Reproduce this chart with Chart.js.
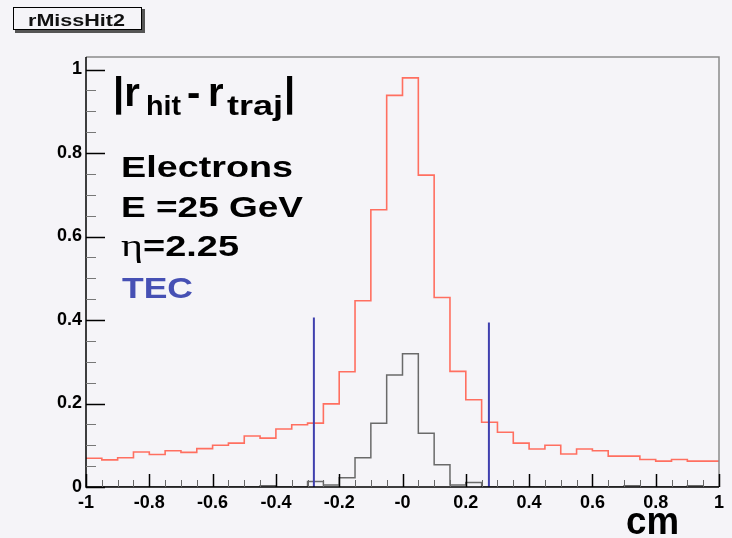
<!DOCTYPE html>
<html>
<head>
<meta charset="utf-8">
<script src="https://cdn.jsdelivr.net/npm/chart.js@4.4.1/dist/chart.umd.min.js"></script>
<style>
  html, body { margin: 0; padding: 0; background: #f5f4f8; }
  #wrap { width: 732px; height: 538px; position: relative; }
</style>
</head>
<body>
<div id="wrap"><canvas id="c" width="732" height="538"></canvas></div>
<script>
// ---- data ----
const binLow = -1;
const binWidth = 0.05;
const redCounts = [0.069,0.065,0.070,0.084,0.078,0.087,0.083,0.092,0.100,0.105,0.122,0.117,0.139,0.149,0.153,0.199,0.276,0.446,0.664,0.938,0.980,0.747,0.454,0.277,0.209,0.155,0.131,0.105,0.091,0.100,0.079,0.091,0.087,0.074,0.074,0.066,0.062,0.066,0.062,0.062];
const grayCounts = [0,0,0,0,0,0,0,0,0,0,0,0.003,0,0,0.013,0.005,0.022,0.070,0.153,0.268,0.319,0.129,0.053,0.005,0.011,0,0,0,0,0,0,0,0,0,0.003,0,0,0,0.003,0];
const cutPositions = [-0.28, 0.273];
const cutHeights = [0.406, 0.394];
const xTickValues = [-1,-0.8,-0.6,-0.4,-0.2,0,0.2,0.4,0.6,0.8,1];
const xTickLabels = ['-1','-0.8','-0.6','-0.4','-0.2','-0','0.2','0.4','0.6','0.8','1'];
const yTickValues = [0,0.2,0.4,0.6,0.8,1];
const yTickLabels = ['0','0.2','0.4','0.6','0.8','1'];

function histPoints(counts) {
  const pts = [];
  counts.forEach((v, i) => {
    const lo = binLow + i * binWidth;
    pts.push({x: lo, y: v});
    pts.push({x: lo + binWidth, y: v});
  });
  return pts;
}

const BG = '#f5f4f8';

function fitText(ctx, str, x, y, font, color, targetWidth) {
  ctx.save();
  ctx.font = font;
  ctx.fillStyle = color;
  ctx.textAlign = 'left';
  ctx.textBaseline = 'alphabetic';
  const w = ctx.measureText(str).width;
  const s = targetWidth ? targetWidth / w : 1;
  ctx.translate(x, y);
  ctx.scale(s, 1);
  ctx.fillText(str, 0, 0);
  ctx.restore();
}

const decor = {
  id: 'decor',
  beforeDraw(chart) {
    const ctx = chart.ctx;
    ctx.save();
    ctx.fillStyle = BG;
    ctx.fillRect(0, 0, chart.width, chart.height);
    // title box
    ctx.fillStyle = '#555';
    ctx.fillRect(15, 30, 130, 3);
    ctx.fillRect(142, 9, 3, 24);
    ctx.fillStyle = BG;
    ctx.fillRect(13, 7, 129, 23);
    ctx.strokeStyle = '#000';
    ctx.lineWidth = 1;
    ctx.strokeRect(13.5, 7.5, 128, 22);
    ctx.restore();
    fitText(ctx, 'rMissHit2', 28, 26, 'bold 17px "Liberation Sans"', '#111', 97);
  },
  afterDatasetsDraw(chart) {
    const ctx = chart.ctx;
    const a = chart.chartArea;
    const xs = chart.scales.x, ys = chart.scales.y;
    ctx.save();
    // frame
    ctx.strokeStyle = '#8a8a8a';
    ctx.lineWidth = 1.5;
    ctx.beginPath();
    ctx.moveTo(a.left, a.top); ctx.lineTo(a.right, a.top); ctx.lineTo(a.right, a.bottom);
    ctx.stroke();
    ctx.strokeStyle = '#000';
    ctx.lineWidth = 1.5;
    ctx.beginPath();
    ctx.moveTo(a.left, a.top); ctx.lineTo(a.left, a.bottom); ctx.lineTo(a.right, a.bottom);
    ctx.stroke();
    // y ticks (inside)
    for (let k = 0; k <= 20; k++) {
      const v = k * 0.05;
      const py = Math.round(ys.getPixelForValue(v)) + 0.5;
      const major = (k % 4 === 0);
      ctx.strokeStyle = major ? '#000' : '#777';
      ctx.lineWidth = major ? 1.5 : 1;
      ctx.beginPath();
      ctx.moveTo(a.left, py);
      ctx.lineTo(a.left + (major ? 19 : 10), py);
      ctx.stroke();
    }
    // x ticks (inside)
    for (let k = 0; k <= 40; k++) {
      const v = binLow + k * binWidth;
      const px = Math.round(xs.getPixelForValue(v)) + 0.5;
      const major = (k % 4 === 0);
      ctx.strokeStyle = major ? '#000' : '#666';
      ctx.lineWidth = major ? 1.5 : 1;
      ctx.beginPath();
      ctx.moveTo(px, a.bottom);
      ctx.lineTo(px, a.bottom - (major ? 13 : 7));
      ctx.stroke();
    }
    ctx.restore();
  },
  afterDraw(chart) {
    const ctx = chart.ctx;
    // formula |r_hit - r_traj|
    fitText(ctx, '|r', 113, 106, 'bold 40px "Liberation Sans"', '#000');
    fitText(ctx, 'hit', 146, 115, 'bold 28px "Liberation Sans"', '#000', 35);
    fitText(ctx, '-', 187, 106, 'bold 40px "Liberation Sans"', '#000');
    fitText(ctx, 'r', 208, 106, 'bold 40px "Liberation Sans"', '#000');
    fitText(ctx, 'traj', 227, 115, 'bold 28px "Liberation Sans"', '#000', 56);
    fitText(ctx, '|', 284, 106, 'bold 40px "Liberation Sans"', '#000');
    fitText(ctx, 'Electrons', 121, 177, 'bold 30px "Liberation Sans"', '#000', 172);
    fitText(ctx, 'E =25 GeV', 121, 217, 'bold 30px "Liberation Sans"', '#000', 182);
    fitText(ctx, 'η', 121, 256, '32px "Liberation Serif"', '#000', 22);
    fitText(ctx, '=2.25', 143, 256, 'bold 30px "Liberation Sans"', '#000', 96);
    fitText(ctx, 'TEC', 122, 298, 'bold 30px "Liberation Sans"', '#4650b4', 71);
    fitText(ctx, 'cm', 626, 534, 'bold 38px "Liberation Sans"', '#000', 53);
  }
};

const cutSets = cutPositions.map((p, i) => ({
  data: [{x: p, y: 0}, {x: p, y: cutHeights[i]}],
  borderColor: '#3f3fae',
  borderWidth: 2,
  pointRadius: 0,
  showLine: true,
  order: 0
}));

new Chart(document.getElementById('c'), {
  type: 'scatter',
  data: {
    datasets: [
      {
        data: histPoints(redCounts),
        borderColor: '#ff6f60',
        borderWidth: 1.6,
        pointRadius: 0,
        showLine: true,
        order: 2
      },
      {
        data: histPoints(grayCounts),
        borderColor: '#6a6a6a',
        borderWidth: 1.5,
        pointRadius: 0,
        showLine: true,
        order: 1
      },
      ...cutSets
    ]
  },
  options: {
    responsive: false,
    animation: false,
    devicePixelRatio: 1,
    layout: { padding: { left: 0, right: 13, top: 57, bottom: 0 } },
    plugins: { legend: { display: false }, tooltip: { enabled: false } },
    elements: { line: { tension: 0 } },
    scales: {
      x: {
        type: 'linear',
        min: -1, max: 1,
        grid: { display: false, drawTicks: false },
        border: { display: false },
        afterBuildTicks: (s) => { s.ticks = xTickValues.map(v => ({value: v})); },
        afterFit: (s) => { s.height = 51; },
        ticks: {
          padding: 5,
          maxRotation: 0,
          autoSkip: false,
          color: '#000',
          font: { family: '"Liberation Sans"', weight: 'bold', size: 18 },
          callback: (v, i) => xTickLabels[i]
        }
      },
      y: {
        type: 'linear',
        min: 0, max: 1.03,
        grid: { display: false, drawTicks: false },
        border: { display: false },
        afterBuildTicks: (s) => { s.ticks = yTickValues.map(v => ({value: v})); },
        afterFit: (s) => { s.width = 86; },
        ticks: {
          padding: 4,
          autoSkip: false,
          color: '#000',
          font: { family: '"Liberation Sans"', weight: 'bold', size: 18 },
          callback: (v, i) => yTickLabels[i]
        }
      }
    }
  },
  plugins: [decor]
});
</script>
</body>
</html>
